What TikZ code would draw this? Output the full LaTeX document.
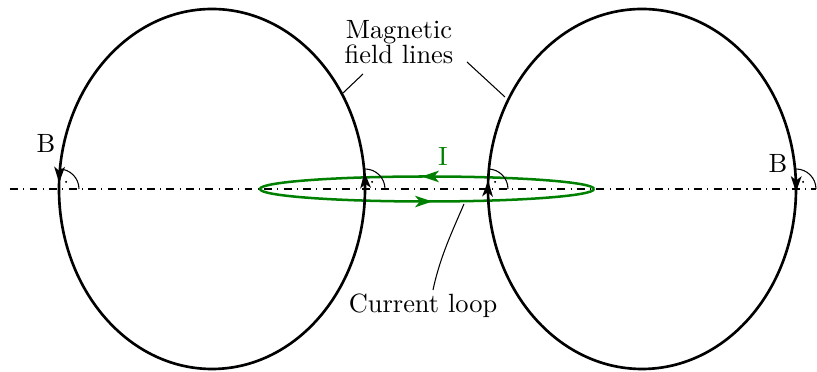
\documentclass[tikz,border=0pt]{standalone}
\usetikzlibrary{arrows.meta,decorations.markings}
\definecolor{loopgreen}{RGB}{0,128,0}
\begin{document}
\begin{tikzpicture}[x=0.013313cm,y=0.013313cm,
  fieldline/.style={line width=1pt},
  looppath/.style={line width=0.95pt, draw=loopgreen},
  leader/.style={line width=0.4pt},
  axisline/.style={line width=0.4pt, dash dot},
  anglemark/.style={line width=0.4pt},
  lbl/.style={inner sep=0pt},
  mark at/.style 2 args={postaction={decorate}, decoration={markings,
     mark=at position #1 with {\arrow{Stealth[length=6pt,width=4pt,inset=1.6pt]}},
     mark=at position #2 with {\arrow{Stealth[length=6pt,width=4pt,inset=1.6pt]}}}},
  gmark at/.style 2 args={postaction={decorate}, decoration={markings,
     mark=at position #1 with {\arrow[loopgreen]{Stealth[length=6.5pt,width=4.3pt,inset=1.7pt]}},
     mark=at position #2 with {\arrow[loopgreen]{Stealth[length=6.5pt,width=4.3pt,inset=1.7pt]}}}}]
\useasboundingbox (0,0) rectangle (817,372);
% axis
\coordinate (axL) at (10,183);
\coordinate (axR) at (816,183);
\draw[axisline] (axL) -- (axR);
% current loop
\draw[looppath, gmark at={0.258}{0.758}] (594,183) arc[start angle=0, end angle=360, x radius=167, y radius=12.5];
% field lines
\draw[fieldline, mark at={0.016}{0.494}] (365,183) arc[start angle=0, end angle=360, x radius=153, y radius=180];
\draw[fieldline, mark at={0.003}{0.508}] (796,183) arc[start angle=0, end angle=-360, x radius=154, y radius=180];
% crossing points and right-angle marks
\foreach \n/\x in {p1/59, p2/365, p3/488, p4/796}{
  \coordinate (\n) at (\x,183);
  \draw[anglemark] ([shift={(20,0)}]\n) arc[start angle=0, end angle=90, radius=20];
  \fill ([shift={(45:10)}]\n) circle[radius=1.1];
}
% labels
\node[lbl, anchor=base] (b1) at (46,219) {B};
\node[lbl, anchor=base] (b2) at (778,199) {B};
\node[lbl, anchor=base, text=loopgreen] (ii) at (443,206) {I};
\node[lbl, anchor=north, align=center] (fl) at (399,352) {Magnetic\\[-2.6pt]field lines};
\node[lbl, anchor=base] (cl) at (423,59) {Current loop};
% leaders
\coordinate (flA) at (363,298);
\coordinate (flAe) at (343,279);
\coordinate (flB) at (467,310);
\coordinate (flBe) at (505,275);
\coordinate (clA) at (433,82);
\coordinate (clAe) at (464,168);
\draw[leader] (flA) -- (flAe);
\draw[leader] (flB) -- (flBe);
\draw[leader] (clA) .. controls (440,115) and (452,140) .. (clAe);
\end{tikzpicture}
\end{document}
